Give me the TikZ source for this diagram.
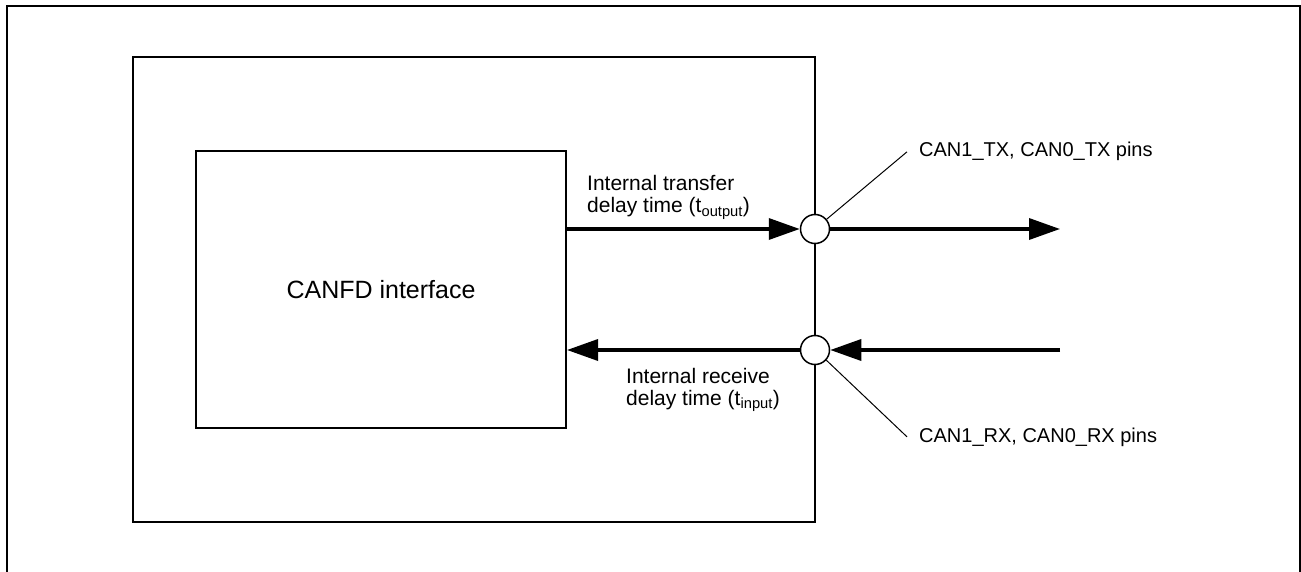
\documentclass[tikz,border=0pt]{standalone}
\usepackage{fontspec}
\setmainfont{Liberation Sans}
\usetikzlibrary{arrows.meta}
\tikzset{
  blk/.style={draw,line width=2pt,inner sep=0pt},
  pinc/.style={circle,draw,fill=white,line width=1.5pt,minimum size=29pt,inner sep=0pt},
  arr/.style={-{Triangle[length=31pt,width=21pt]},line width=3.5pt},
  lead/.style={line width=1pt},
  lbl/.style={font=\fontsize{21}{25}\selectfont,align=left,inner sep=0pt}
}

\begin{document}
\begin{tikzpicture}[x=1pt,y=-1pt]
  \useasboundingbox (0,0) rectangle (1301,572);
  \draw[line width=2pt] (6.5,572) -- (6.5,6.5) -- (1299.5,6.5) -- (1299.5,572);
  \node[blk,minimum width=682pt,minimum height=465pt] (chip) at (474,289.5) {};
  \node[blk,minimum width=370pt,minimum height=277pt,font=\fontsize{25}{30}\selectfont] (canfd) at (381,289.5) {CANFD interface};
  \node[pinc] (tx) at (815,229) {};
  \node[pinc] (rx) at (815,350) {};
  \coordinate (txend) at (1060,229);
  \coordinate (rxbeg) at (1060,350);
  \draw[arr] (canfd.east |- tx) -- (tx.west);
  \draw[arr] (tx.east) -- (txend);
  \draw[arr] (rxbeg) -- (rx.east);
  \draw[arr] (rx.west) -- (canfd.east |- rx);
  \node[lbl,anchor=base west] (txt) at (587,213) {Internal transfer\\[-3pt]delay time (t\textsubscript{output})};
  \node[lbl,anchor=base west] (rxt) at (626,405) {Internal receive\\[-3pt]delay time (t\textsubscript{input})};
  \node[lbl,font=\fontsize{20}{24}\selectfont,anchor=base west] (txpin) at (919,157) {CAN1\_TX, CAN0\_TX pins};
  \node[lbl,font=\fontsize{20}{24}\selectfont,anchor=base west] (rxpin) at (919,442) {CAN1\_RX, CAN0\_RX pins};
  \draw[lead] (tx.40) -- ([xshift=-12pt]txpin.west);
  \draw[lead] (rx.-42) -- ([xshift=-12pt]rxpin.west);
\end{tikzpicture}
\end{document}
